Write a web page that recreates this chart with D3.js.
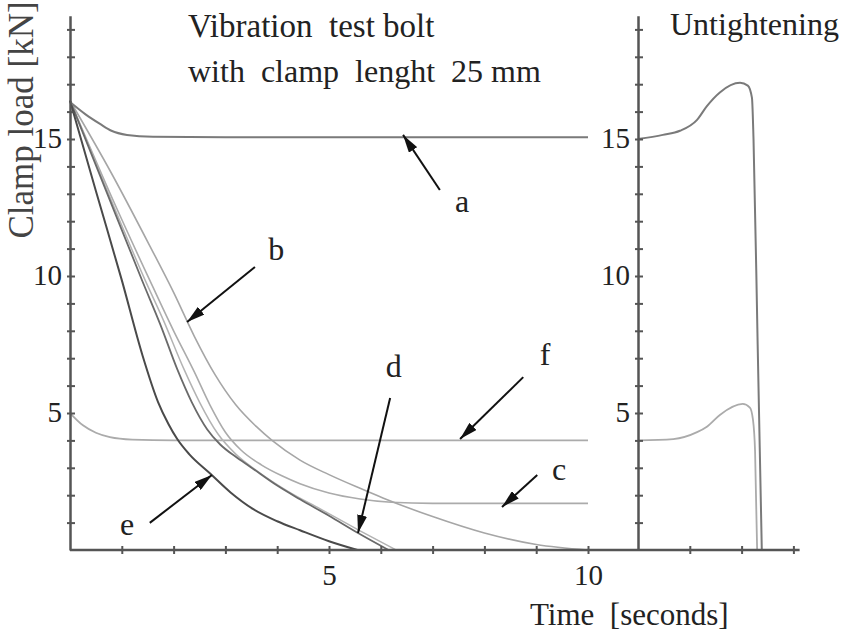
<!DOCTYPE html>
<html>
<head>
<meta charset="utf-8">
<script src="https://cdn.jsdelivr.net/npm/d3@7"></script>
<style>
  body { margin: 0; background: #fff; }
  text { font-family: "Liberation Serif", "Times New Roman", serif; fill: #222; white-space: pre; }
</style>
</head>
<body>
<div id="chart"></div>
<script>
// vibration test, time [s] vs clamp load [kN]
var curveA = [[0,16.35],[0.3,15.9],[0.58,15.55],[0.8,15.3],[1.1,15.15],[1.6,15.08],[3,15.06],[10,15.06]];
var curveB = [[0,16.4],[0.8,13.75],[1.54,11.1],[2.0,9.4],[2.4,7.8],[2.8,6.4],[3.2,5.3],[3.6,4.5],[3.9,4.0],[4.44,3.28],[5.0,2.75],[5.6,2.25],[6.04,1.9],[7.0,1.22],[8.0,0.62],[9.0,0.2],[10,0]];
var curveC = [[0,16.4],[0.8,12.9],[1.6,9.6],[2.0,8.0],[2.4,6.5],[2.7,5.3],[3.0,4.3],[3.3,3.65],[3.7,3.1],[4.1,2.7],[4.44,2.42],[5.0,2.08],[5.6,1.86],[6.2,1.74],[7,1.7],[10,1.7]];
var curveL = [[0,16.4],[0.7,13.2],[1.45,9.85],[1.8,8.4],[2.2,6.6],[2.5,5.4],[2.85,4.25],[3.2,3.5],[3.6,2.9],[4.2,2.15],[4.83,1.5],[5.6,0.7],[6.3,0]];
var curveD = [[0,16.4],[0.7,13.1],[1.4,9.8],[1.75,8.2],[2.07,6.6],[2.35,5.4],[2.65,4.4],[2.9,3.85],[3.2,3.4],[3.47,3.05],[4.0,2.35],[4.44,1.85],[5.0,1.25],[5.56,0.62],[6.15,0]];
var curveE = [[0,16.4],[0.5,13.1],[1.0,9.85],[1.4,7.1],[1.7,5.4],[1.9,4.6],[2.07,4.05],[2.3,3.5],[2.7,2.8],[3.1,2.1],[3.53,1.5],[4.0,1.05],[4.44,0.72],[5.0,0.32],[5.55,0]];
var curveF = [[0,5.0],[0.25,4.55],[0.5,4.28],[0.77,4.12],[1.2,4.03],[2,4.0],[10,4.0]];

// untightening panel, local time
var untightHigh = [[0,15.0],[0.48,15.15],[0.81,15.3],[1.14,15.7],[1.33,16.2],[1.58,16.7],[1.97,17.05],[2.12,16.95],[2.2,16.5],[2.23,15.0],[2.31,7.5],[2.39,0]];
var untightLow = [[0,4.0],[0.68,4.05],[1.14,4.3],[1.33,4.5],[1.58,4.93],[2.02,5.33],[2.16,5.2],[2.22,4.75],[2.26,3.6],[2.3,0]];

var yTicks = d3.range(1, 20);
var yLabels = [5, 10, 15];
var xTicks = d3.range(1, 11);
var xLabels = [5, 10];
var xrTicks = [1, 2, 3];

// label, arrow tip, arrow tail, text anchor (all in data units)
var notes = [
  ["a", [6.43, 15.15], [7.14, 13.14], [7.57, 12.34]],
  ["b", [2.26, 8.32], [3.57, 10.33], [3.98, 10.58]],
  ["c", [8.34, 1.57], [9.02, 2.74], [9.44, 2.55]],
  ["d", [5.56, 0.62], [6.18, 5.55], [6.25, 6.31]],
  ["e", [2.74, 2.74], [1.54, 0.99], [1.1, 0.55]],
  ["f", [7.53, 4.05], [8.75, 6.31], [9.17, 6.75]]
];

var width = 845, height = 636;

var svg = d3.select("#chart").append("svg")
  .attr("width", width)
  .attr("height", height);

var x = d3.scaleLinear().domain([0, 10]).range([70, 588]);
var xr = d3.scaleLinear().domain([0, 3]).range([638, 793.4]);
var y = d3.scaleLinear().domain([0, 19.5]).range([550, 15.7]);

var defs = svg.append("defs");
defs.append("marker")
  .attr("id", "head")
  .attr("markerUnits", "userSpaceOnUse")
  .attr("viewBox", "0 0 18 10")
  .attr("refX", 18).attr("refY", 5)
  .attr("markerWidth", 18).attr("markerHeight", 10)
  .attr("orient", "auto")
  .append("path")
  .attr("d", "M0,0 L18,5 L0,10 Z")
  .attr("fill", "#111");

var line = d3.line()
  .x(function(d) { return x(d[0]); })
  .y(function(d) { return y(d[1]); })
  .curve(d3.curveMonotoneX);

var lineR = d3.line()
  .x(function(d) { return xr(d[0]); })
  .y(function(d) { return y(d[1]); })
  .curve(d3.curveMonotoneX);

var series = [
  [curveF, "#ababab", 1.8],
  [curveC, "#ababab", 1.6],
  [curveB, "#a6a6a6", 1.6],
  [curveL, "#b3b3b3", 1.5],
  [curveD, "#6a6a6a", 1.8],
  [curveE, "#4a4a4a", 2],
  [curveA, "#7a7a7a", 2]
];

svg.append("g").selectAll("path")
  .data(series)
  .enter().append("path")
  .attr("d", function(d) { return line(d[0]); })
  .attr("fill", "none")
  .attr("stroke", function(d) { return d[1]; })
  .attr("stroke-width", function(d) { return d[2]; });

svg.append("path")
  .attr("d", lineR(untightLow))
  .attr("fill", "none").attr("stroke", "#ababab").attr("stroke-width", 1.8);
svg.append("path")
  .attr("d", lineR(untightHigh))
  .attr("fill", "none").attr("stroke", "#7a7a7a").attr("stroke-width", 2);

// axes
function yAxis(g) {
  g.call(d3.axisLeft(y).tickValues(yTicks).tickSizeInner(-5).tickSizeOuter(0).tickPadding(8)
      .tickFormat(function(d) { return yLabels.indexOf(d) >= 0 ? d : ""; }));
  g.select(".domain").attr("stroke", "#555").attr("stroke-width", 2.5);
  g.selectAll(".tick line").attr("x1", -3).attr("x2", 5).attr("stroke", "#555").attr("stroke-width", 2);
  g.selectAll(".tick text")
    .attr("font-size", 29).attr("font-family", "Liberation Serif").attr("fill", "#222")
    .attr("dy", "0.28em");
}

svg.append("g").attr("transform", "translate(" + x(0) + ",0)").call(yAxis);
svg.append("g").attr("transform", "translate(" + xr(0) + ",0)").call(yAxis);

svg.append("line")
  .attr("x1", x(0)).attr("x2", xr(3.12))
  .attr("y1", y(0)).attr("y2", y(0))
  .attr("stroke", "#555").attr("stroke-width", 2.5);

function xAxisTicks(g, scale, vals, labels) {
  g.call(d3.axisBottom(scale).tickValues(vals).tickSizeInner(4).tickSizeOuter(0).tickPadding(10)
      .tickFormat(function(d) { return labels.indexOf(d) >= 0 ? d : ""; }));
  g.select(".domain").remove();
  g.selectAll(".tick line").attr("y1", -4).attr("y2", 4).attr("stroke", "#555").attr("stroke-width", 2);
  g.selectAll(".tick text")
    .attr("font-size", 29).attr("font-family", "Liberation Serif").attr("fill", "#222");
}

svg.append("g").attr("transform", "translate(0," + y(0) + ")")
  .call(xAxisTicks, x, xTicks, xLabels);
svg.append("g").attr("transform", "translate(0," + y(0) + ")")
  .call(xAxisTicks, xr, xrTicks, []);

// annotations
var ann = svg.append("g");
ann.selectAll("line")
  .data(notes)
  .enter().append("line")
  .attr("x1", function(d) { return x(d[2][0]); })
  .attr("y1", function(d) { return y(d[2][1]); })
  .attr("x2", function(d) { return x(d[1][0]); })
  .attr("y2", function(d) { return y(d[1][1]); })
  .attr("stroke", "#111")
  .attr("stroke-width", 2)
  .attr("marker-end", "url(#head)");

ann.selectAll("text")
  .data(notes)
  .enter().append("text")
  .attr("x", function(d) { return x(d[3][0]); })
  .attr("y", function(d) { return y(d[3][1]); })
  .attr("text-anchor", "middle")
  .attr("font-size", 32)
  .text(function(d) { return d[0]; });

// titles
svg.append("text").attr("x", 188).attr("y", 37).attr("font-size", 33).text("Vibration  test bolt");
svg.append("text").attr("x", 188).attr("y", 82).attr("font-size", 32).text("with  clamp  lenght  25 mm");
svg.append("text").attr("x", 670).attr("y", 35).attr("font-size", 32).text("Untightening");
svg.append("text").attr("x", 530).attr("y", 625).attr("font-size", 31).text("Time  [seconds]");
svg.append("text")
  .attr("transform", "translate(33,120) rotate(-90)")
  .attr("text-anchor", "middle")
  .attr("font-size", 35)
  .style("fill", "#444")
  .text("Clamp load [kN]");
</script>
</body>
</html>
